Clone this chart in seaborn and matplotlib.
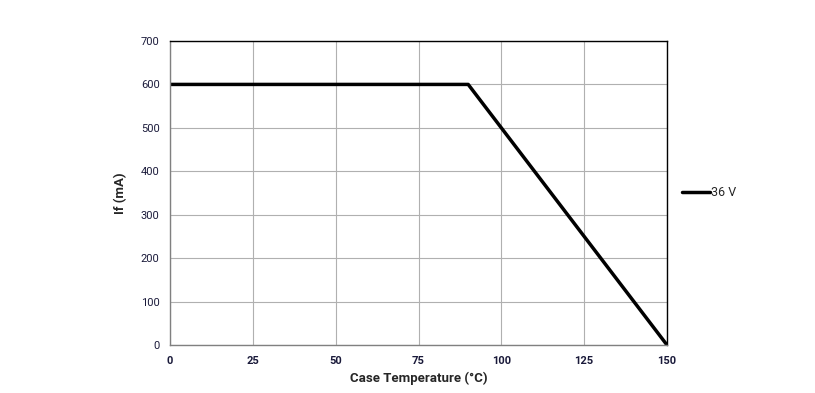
import pandas as pd
import matplotlib
matplotlib.use('Agg')
import matplotlib.pyplot as plt
import seaborn as sns

# derating curve
case_temp = [0, 90, 150]
forward_current = [600, 600, 0]
series_label = '36 V'

sns.set_style('white')
plt.rcParams['font.family'] = ['Roboto', 'DejaVu Sans']

df = pd.DataFrame({'temp': case_temp, 'If': forward_current, 'series': series_label})

fig = plt.figure(figsize=(8.15, 3.93), dpi=100)
ax = fig.add_axes([170 / 815, 48 / 393, 497 / 815, 304 / 393])

sns.lineplot(data=df, x='temp', y='If', hue='series', palette=['black'],
             linewidth=2.5, ax=ax, legend=True)

ax.set_xlim(0, 150)
ax.set_ylim(0, 700)
ax.set_xticks([0, 25, 50, 75, 100, 125, 150])
ax.set_yticks(range(0, 701, 100))
ax.grid(True, color='#b0b0b0', linewidth=0.8)
ax.set_axisbelow(True)

for side in ['left', 'bottom']:
    ax.spines[side].set_color('#808080')
for side in ['top', 'right']:
    ax.spines[side].set_color('black')
for s in ax.spines.values():
    s.set_linewidth(1)

ax.tick_params(axis='both', direction='out', length=4, width=1, color='#808080',
               labelsize=8, labelcolor='#1a1a3a')
ax.tick_params(axis='x', pad=4)
for lbl in ax.get_xticklabels():
    lbl.set_fontweight('bold')

ax.set_xlabel('Case Temperature (°C)', fontsize=9.5, fontweight='bold', labelpad=4)
ax.set_ylabel('If (mA)', fontsize=9.5, fontweight='bold', labelpad=10)

leg = ax.legend(loc='center left', bbox_to_anchor=(1.0, 0.5), frameon=False,
                fontsize=9, handlelength=2.2, handletextpad=0.1, borderaxespad=0.8)
for h in leg.get_lines():
    h.set_linewidth(2.5)

plt.savefig('out.png', dpi=100)
